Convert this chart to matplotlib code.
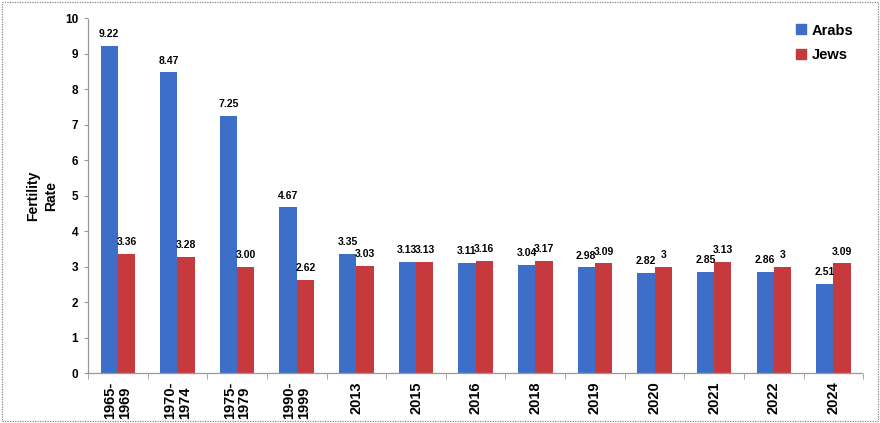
import numpy as np
import matplotlib
matplotlib.use("Agg")
import matplotlib.pyplot as plt
from matplotlib.patches import Rectangle
from matplotlib.lines import Line2D

plt.rcParams['font.family'] = ['Liberation Sans', 'DejaVu Sans']
plt.rcParams['font.weight'] = 'bold'

# data
periods = ["1965-\n1969", "1970-\n1974", "1975-\n1979", "1990-\n1999", "2013", "2015",
           "2016", "2018", "2019", "2020", "2021", "2022", "2024"]
arabs = [9.22, 8.47, 7.25, 4.67, 3.35, 3.13, 3.11, 3.04, 2.98, 2.82, 2.85, 2.86, 2.51]
jews = [3.36, 3.28, 3.00, 2.62, 3.03, 3.13, 3.16, 3.17, 3.09, 3.00, 3.13, 3.00, 3.09]
arab_labels = ["9.22", "8.47", "7.25", "4.67", "3.35", "3.13", "3.11", "3.04", "2.98",
               "2.82", "2.85", "2.86", "2.51"]
jew_labels = ["3.36", "3.28", "3.00", "2.62", "3.03", "3.13", "3.16", "3.17", "3.09",
              "3", "3.13", "3", "3.09"]

blue = "#3d6fc9"
red = "#c6393d"

fig = plt.figure(figsize=(8.8, 4.23), dpi=100)
ax = fig.add_axes([0.1, 0.118, 0.881, 0.839])

x = np.arange(len(periods))
w = 0.29
b1 = ax.bar(x - w / 2, arabs, w, color=blue, label="Arabs")
b2 = ax.bar(x + w / 2, jews, w, color=red, label="Jews")

for bars, labels in [(b1, arab_labels), (b2, jew_labels)]:
    for rect, lab in zip(bars, labels):
        ax.annotate(lab, (rect.get_x() + rect.get_width() / 2, rect.get_height()),
                    xytext=(0, 8.5), textcoords="offset points", ha="center",
                    va="center", fontsize=7.5, fontweight="bold")

ax.set_xlim(-0.5, len(periods) - 0.5)
ax.set_ylim(0, 10)
ax.set_yticks(range(0, 11))
ax.set_xticks(x)
ax.set_xticklabels(periods, rotation=90, fontsize=10.5, fontweight="bold",
                   multialignment="left", linespacing=1.05)
ax.set_xticks(np.arange(-0.5, len(periods), 1), minor=True)
ax.tick_params(axis="x", which="major", length=0, pad=6)
ax.tick_params(axis="x", which="minor", length=4, color="#999999", direction="out")
ax.tick_params(axis="y", length=3, color="#999999", labelsize=8.5, pad=4)

for s in ["top", "right"]:
    ax.spines[s].set_visible(False)
for s in ["left", "bottom"]:
    ax.spines[s].set_color("#999999")
    ax.spines[s].set_linestyle((0, (1, 1)))
    ax.spines[s].set_linewidth(0.9)

ax.set_ylabel("Fertility\nRate", fontsize=10, fontweight="bold", labelpad=5,
              linespacing=1.35)

handles = [Line2D([], [], marker="s", linestyle="", markersize=6.5, color=blue),
           Line2D([], [], marker="s", linestyle="", markersize=6.5, color=red)]
ax.legend(handles, ["Arabs", "Jews"], loc="upper right", bbox_to_anchor=(1.004, 1.022),
          frameon=False, handlelength=0.8, handletextpad=0.35, labelspacing=0.75,
          prop={"weight": "bold", "size": 10.5})

fig.patches.append(Rectangle((0.002, 0.004), 0.996, 0.992, transform=fig.transFigure,
                             fill=False, edgecolor="#888888", linestyle=(0, (1, 1)),
                             linewidth=0.9))

fig.savefig("out.png", dpi=100)
